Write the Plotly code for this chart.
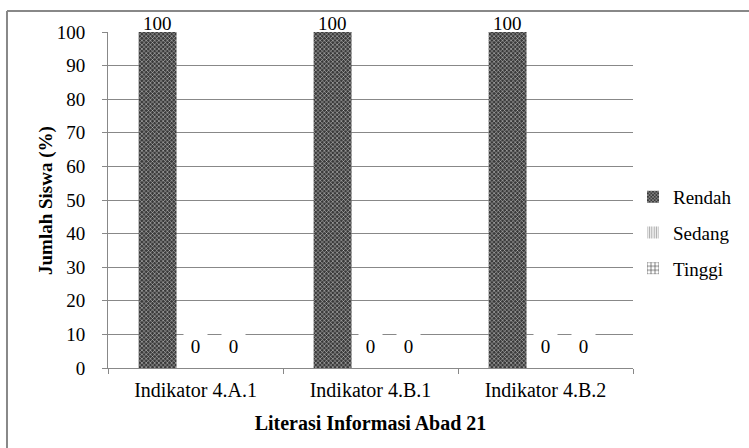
import plotly.graph_objects as go

categories = ["Indikator 4.A.1", "Indikator 4.B.1", "Indikator 4.B.2"]
rendah = [100, 100, 100]
sedang = [0, 0, 0]
tinggi = [0, 0, 0]
series_names = ["Rendah", "Sedang", "Tinggi"]

FONT = "Liberation Serif"
FS = 19
BARGAP = 0.35

series_values = [rendah, sedang, tinggi]
patterns = [
    dict(shape="x", bgcolor="#3a3a3a", fgcolor="#d8d8d8", size=3, solidity=0.3, fillmode="replace"),
    dict(shape="|", bgcolor="#ffffff", fgcolor="#aaaaaa", size=3, solidity=0.5, fillmode="replace"),
    dict(shape="+", bgcolor="#ffffff", fgcolor="#444444", size=5, solidity=0.3, fillmode="replace"),
]
colors = ["#3a3a3a", "#bbbbbb", "#444444"]

fig = go.Figure()
for i, (name, vals) in enumerate(zip(series_names, series_values)):
    fig.add_trace(go.Bar(
        x=categories, y=vals, name=name, legendgroup=name,
        marker=dict(color=colors[i], line=dict(width=0), pattern=patterns[i]),
        cliponaxis=False,
    ))

# data labels (Excel-style boxes)
bar_w = (1 - BARGAP) / len(series_names)
for i, vals in enumerate(series_values):
    for j, v in enumerate(vals):
        xpos = j + (i - (len(series_names) - 1) / 2) * bar_w
        if v == 0:
            fig.add_annotation(x=xpos, y=v, text=str(v), showarrow=False,
                               yanchor="bottom", yshift=5, height=30, width=21,
                               bgcolor="white", valign="middle",
                               font=dict(family=FONT, size=FS, color="#000"))
        else:
            fig.add_annotation(x=xpos, y=v, text=str(v), showarrow=False,
                               yanchor="bottom", yshift=-4,
                               font=dict(family=FONT, size=FS, color="#000"))

fig.update_layout(
    width=749, height=448,
    margin=dict(l=108, r=116, t=32, b=80, autoexpand=False),
    paper_bgcolor="white", plot_bgcolor="white",
    barmode="group", bargap=BARGAP, bargroupgap=0,
    font=dict(family=FONT, size=FS, color="#000"),
    showlegend=True,
    legend=dict(x=1.0, y=0.402, xanchor="left", yanchor="middle",
                font=dict(family=FONT, size=FS, color="#000"), tracegroupgap=8,
                itemwidth=30, bgcolor="rgba(0,0,0,0)"),
    xaxis=dict(
        type="category", tickson="boundaries", ticks="outside", ticklen=5,
        tickcolor="#888", showline=True, linecolor="#888", linewidth=1,
        showgrid=False, tickfont=dict(family=FONT, size=20),
        ticklabelstandoff=4,
        title=dict(text="<b>Literasi Informasi Abad 21</b>",
                   font=dict(family=FONT, size=20), standoff=15),
    ),
    yaxis=dict(
        range=[0, 100], dtick=10, ticks="outside", ticklen=5, tickcolor="#888",
        showline=True, linecolor="#888", linewidth=1,
        showgrid=True, gridcolor="#888", gridwidth=1, zeroline=False,
        tickfont=dict(family=FONT, size=FS), ticklabelstandoff=13,
    ),
)

# y-axis title
fig.add_annotation(xref="paper", yref="paper", x=-0.1181, y=0.5,
                   text="<b>Jumlah Siswa (%)</b>", textangle=-90, showarrow=False,
                   xanchor="center", yanchor="middle",
                   font=dict(family=FONT, size=FS, color="#000"))

# outer chart border (top and left edges visible)
fig.add_shape(type="line", xref="paper", yref="paper",
              x0=-0.1924, x1=1.3, y0=1.0625, y1=1.0625,
              line=dict(color="#888", width=2))
fig.add_shape(type="line", xref="paper", yref="paper",
              x0=-0.1924, x1=-0.1924, y0=1.0625, y1=-0.3,
              line=dict(color="#888", width=2))

fig.write_html("out.html", config={"displayModeBar": False},
               post_script="document.body.style.margin='0';")
